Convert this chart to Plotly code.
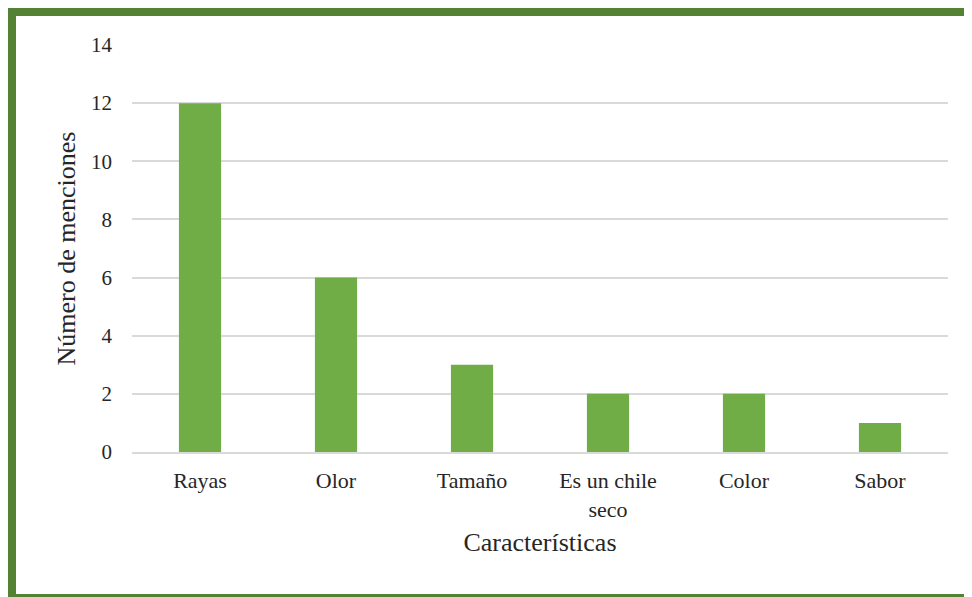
import plotly.graph_objects as go

categorias = ["Rayas", "Olor", "Tamaño", "Es un chile<br>seco", "Color", "Sabor"]
menciones = [12, 6, 3, 2, 2, 1]
y_ticks = [0, 2, 4, 6, 8, 10, 12, 14]

# the page body has an 8px margin, so the figure is drawn 8px in from the window's corner
OFF = 8
W, H = 972 - OFF, 597 - OFF
ml, mr, mt, mb = 132 - OFF, 24, 45 - OFF, 145
pw, ph = W - ml - mr, H - mt - mb

def px_x(x):
    return (x - OFF - ml) / pw

def px_y(y):
    return (H - mb - (y - OFF)) / ph

font = "Liberation Serif, Times New Roman, serif"
txt = "#262626"

fig = go.Figure(go.Bar(
    x=categorias, y=menciones, marker_color="#70AD47", marker_line_width=0,
))

fig.update_layout(
    width=W, height=H,
    margin=dict(l=ml, r=mr, t=mt, b=mb),
    paper_bgcolor="white", plot_bgcolor="white",
    bargap=0.69,
    showlegend=False,
    font=dict(family=font, color=txt, size=22),
    xaxis=dict(
        title=dict(text="Características", font=dict(size=26, family=font, color=txt), standoff=12),
        showgrid=False, showline=True, linecolor="#D9D9D9", linewidth=1.5,
        ticks="", ticklabelstandoff=8,
        tickfont=dict(size=22, family=font, color=txt),
    ),
    yaxis=dict(
        title=dict(text="Número de menciones", font=dict(size=26, family=font, color=txt), standoff=7),
        range=[0, 14], tickvals=y_ticks, showgrid=True, gridcolor="#D9D9D9", gridwidth=1.5,
        zeroline=False, showline=False, ticks="", ticklabelstandoff=19,
        tickfont=dict(size=21, family=font, color=txt),
    ),
    shapes=[dict(
        type="rect", xref="paper", yref="paper",
        x0=px_x(12), x1=px_x(990), y0=px_y(598), y1=px_y(12),
        line=dict(color="#548235", width=8), fillcolor="rgba(0,0,0,0)", layer="above",
    )],
)

fig.write_html("out.html")
